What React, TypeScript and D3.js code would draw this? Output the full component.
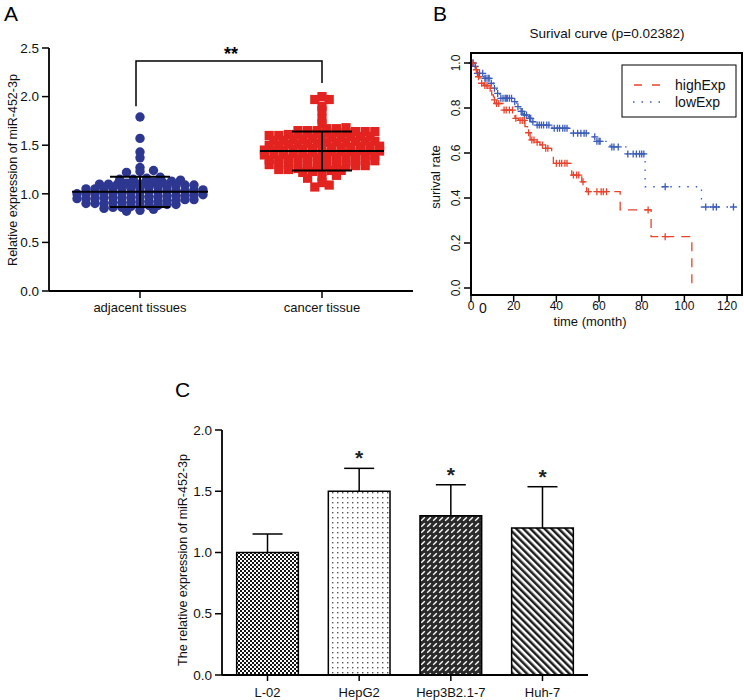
import React from 'react';
import * as d3 from 'd3';

const FONT = '"Liberation Sans", Arial, Helvetica, sans-serif';

// ---------- Panel A data ----------
const groupsA = ['adjacent tissues', 'cancer tissue'];
const adjacentValues = [
  1.79, 1.57, 1.43, 1.37, 1.27, 1.23, 1.22, 1.24,
  1.15, 1.14, 1.16, 1.13, 1.17, 1.15,
  1.11, 1.10, 1.12, 1.09, 1.11, 1.10, 1.12, 1.09, 1.11, 1.10,
  1.06, 1.05, 1.07, 1.04, 1.06, 1.08, 1.05, 1.07, 1.06, 1.04, 1.05, 1.07, 1.06,
  1.01, 1.02, 1.00, 1.03, 0.99, 1.01, 1.02, 1.00, 1.03, 1.01, 0.99, 1.02, 1.00, 1.01, 1.03,
  0.96, 0.97, 0.95, 0.98, 0.94, 0.96, 0.97, 0.95, 0.98, 0.96, 0.94, 0.97, 0.95, 0.96, 0.98,
  0.91, 0.92, 0.90, 0.93, 0.89, 0.91, 0.92, 0.90, 0.93, 0.91, 0.89, 0.92, 0.90,
  0.87, 0.86, 0.88, 0.85, 0.87, 0.86, 0.88,
  0.83, 0.82, 0.84,
];
const cancerValues = [
  2.00, 1.97, 1.97, 1.90, 1.855, 1.77, 1.72,
  1.67, 1.68, 1.67,
  1.64, 1.63, 1.65, 1.62, 1.64, 1.63, 1.65, 1.62, 1.64, 1.63, 1.65,
  1.59, 1.58, 1.60, 1.57, 1.61, 1.59, 1.58, 1.60, 1.57, 1.59, 1.61,
  1.54, 1.53, 1.55, 1.52, 1.56, 1.54, 1.53, 1.55, 1.52, 1.54, 1.56, 1.53,
  1.49, 1.48, 1.50, 1.47, 1.51, 1.49, 1.48, 1.50, 1.47, 1.49, 1.51, 1.48,
  1.44, 1.43, 1.45, 1.42, 1.46, 1.44, 1.43, 1.45, 1.42, 1.44, 1.46, 1.43, 1.45,
  1.39, 1.38, 1.40, 1.37, 1.41, 1.39, 1.38, 1.40, 1.37, 1.39, 1.41, 1.38, 1.40,
  1.34, 1.33, 1.35, 1.32, 1.36, 1.34, 1.33, 1.35, 1.32, 1.34, 1.36, 1.33,
  1.29, 1.28, 1.30, 1.27, 1.31, 1.29, 1.28, 1.30, 1.27, 1.29, 1.31,
  1.24, 1.23, 1.25, 1.22, 1.26, 1.24, 1.23, 1.25,
  1.16, 1.19, 1.18,
  1.115, 1.09, 1.07,
];
// mean ± SD as drawn in the figure
const meanA = [1.02, 1.44];
const sdA = [0.155, 0.2];
const ticksA = [0, 0.5, 1.0, 1.5, 2.0, 2.5];

// ---------- Panel B data ----------
const lowTimes = [0, 1.5, 2.7, 5.8, 9, 10.5, 12, 13.6, 19.8, 21.4, 23, 24.5, 26.9, 28.4, 30, 38, 47, 55, 58.9, 65.2, 73, 81.6, 108];
const lowSurv = [1, 0.985, 0.954, 0.932, 0.91, 0.888, 0.865, 0.843, 0.828, 0.806, 0.785, 0.769, 0.754, 0.739, 0.724, 0.71, 0.688, 0.672, 0.652, 0.627, 0.596, 0.45, 0.36];
const lowEnd = 123;
const lowCensor = [0.5, 1, 2, 3, 4, 5.5, 6.5, 7, 8, 8.5, 9.5, 11, 12.5, 14, 15, 16, 16.5, 17, 18, 19, 20.5, 22, 23.5, 24, 25, 26, 27.5, 28, 29, 31, 32, 33, 34, 35.5, 36.5, 39, 40.5, 41.5, 43, 44, 45, 48, 50, 51.5, 53, 54, 58, 59, 60, 60.5, 66, 67, 69, 73.5, 76, 77.5, 79, 80, 81, 91, 110, 113.5, 115, 123];
const highTimes = [0, 2, 3.4, 4.2, 6, 8.1, 9.7, 10.5, 11.5, 15.2, 19.8, 20.6, 22.2, 25.3, 26.5, 27.7, 30, 32.3, 34.7, 37.8, 38.6, 47.2, 51.9, 53.5, 54.2, 69.9, 84.4, 103.5];
const highSurv = [1, 0.97, 0.939, 0.91, 0.9, 0.888, 0.858, 0.836, 0.82, 0.791, 0.769, 0.754, 0.745, 0.717, 0.69, 0.658, 0.648, 0.636, 0.621, 0.584, 0.554, 0.502, 0.472, 0.45, 0.428, 0.347, 0.228, 0];
const highCensor = [1, 2.5, 3.5, 5, 6.5, 7.5, 9, 11, 12, 13, 15.5, 16.5, 18, 19.5, 21, 23, 24, 25, 27, 28.5, 29.5, 31, 33.5, 35, 36, 40, 41.5, 42.5, 44, 45, 48, 49.5, 50.5, 52.5, 55, 59, 61, 62, 63.5, 83, 91];
const ticksBX = [0, 20, 40, 60, 80, 100, 120];
const ticksBY = [0, 0.2, 0.4, 0.6, 0.8, 1.0];

// ---------- Panel C data ----------
const cellLines = ['L-02', 'HepG2', 'Hep3B2.1-7', 'Huh-7'];
const cellMeans = [1.0, 1.5, 1.3, 1.2];
const cellSD = [0.151, 0.187, 0.253, 0.337];
const cellStars = ['', '*', '*', '*'];
const cellPatterns = ['pCheck', 'pDots', 'pDash', 'pStripe'];
const ticksC = [0, 0.5, 1.0, 1.5, 2.0];

const RED_A = '#E2231F';
const BLUE_A = '#2E3790';
const RED_B = '#E8432D';
const BLUE_B = '#3B5CB8';

function swarm(values: number[], binSize: number, spacing: number) {
  const items = values.map((v, i) => ({ v, i }));
  const bins = d3.group(items, (d) => Math.floor(d.v / binSize + 1e-9));
  const out: { v: number; dx: number }[] = [];
  for (const [, arr] of bins) {
    const sorted = arr.slice().sort((a, b) => a.v - b.v);
    const n = sorted.length;
    const sp = n <= 4 ? spacing * 1.5 : spacing;
    sorted.forEach((d, k) => out.push({ v: d.v, dx: (k - (n - 1) / 2) * sp }));
  }
  return out;
}

function survAt(times: number[], surv: number[], t: number) {
  const idx = d3.bisectRight(times, t) - 1;
  return surv[Math.max(0, idx)];
}

function PanelA() {
  const y = d3.scaleLinear([0, 2.5], [291, 48]);
  const x = d3.scalePoint(groupsA, [49, 413]).padding(0.5);
  const fmt = d3.format('.1f');
  const blue = swarm(adjacentValues, 0.05, 9);
  const red = swarm(cancerValues, 0.05, 9.6);
  const xb = x(groupsA[0])!;
  const xr = x(groupsA[1])!;
  const meanHalf = [68, 62];
  return (
    <g fontFamily={FONT}>
      <text x={4} y={21} fontSize={21}>A</text>
      <line x1={49} x2={49} y1={y(2.5)} y2={y(0)} stroke="#000" strokeWidth={1.8} />
      <line x1={49} x2={413} y1={y(0)} y2={y(0)} stroke="#000" strokeWidth={1.8} />
      {ticksA.map((t) => (
        <g key={t}>
          <line x1={42} x2={49} y1={y(t)} y2={y(t)} stroke="#000" strokeWidth={1.5} />
          <text x={39} y={y(t)} dy="0.35em" textAnchor="end" fontSize={13.5} fill="#111">{fmt(t)}</text>
        </g>
      ))}
      {groupsA.map((g) => (
        <g key={g}>
          <line x1={x(g)} x2={x(g)} y1={y(0)} y2={y(0) + 7} stroke="#000" strokeWidth={1.5} />
          <text x={x(g)} y={312} textAnchor="middle" fontSize={13} fill="#111">{g}</text>
        </g>
      ))}
      <text transform={`translate(13,170) rotate(-90)`} textAnchor="middle" dominantBaseline="central" fontSize={12.5} fill="#111">
        Relative expression of miR-452-3p
      </text>
      {blue.map((p, i) => (
        <circle key={'b' + i} cx={xb + p.dx} cy={y(p.v)} r={4.7} fill={BLUE_A} />
      ))}
      {red.map((p, i) => (
        <rect key={'r' + i} x={xr + p.dx - 4.6} y={y(p.v) - 4.6} width={9.2} height={9.2} fill={RED_A} />
      ))}
      {[xb, xr].map((cx, i) => {
        const m = meanA[i];
        const s = sdA[i];
        return (
          <g key={i} stroke="#000" strokeWidth={2}>
            <line x1={cx - meanHalf[i]} x2={cx + meanHalf[i]} y1={y(m)} y2={y(m)} />
            <line x1={cx} x2={cx} y1={y(m + s)} y2={y(m - s)} />
            <line x1={cx - 30} x2={cx + 30} y1={y(m + s)} y2={y(m + s)} />
            <line x1={cx - 30} x2={cx + 30} y1={y(m - s)} y2={y(m - s)} />
          </g>
        );
      })}
      <path d={`M${xb - 4},${y(1.9)} V61 H${xr} V${y(2.14)}`} fill="none" stroke="#000" strokeWidth={1.5} />
      <text x={(xb + xr) / 2} y={60} textAnchor="middle" fontSize={18} fontWeight="bold">**</text>
    </g>
  );
}

function PanelB() {
  const x = d3.scaleLinear([0, 127], [471, 742]);
  const y = d3.scaleLinear([0, 1], [288, 63]);
  const line = d3
    .line<[number, number]>()
    .x((d) => x(d[0]))
    .y((d) => y(d[1]))
    .curve(d3.curveStepAfter);
  const lowPts: [number, number][] = lowTimes.map((t, i) => [t, lowSurv[i]]);
  lowPts.push([lowEnd, lowSurv[lowSurv.length - 1]]);
  const highPts: [number, number][] = highTimes.map((t, i) => [t, highSurv[i]]);
  const plus = (cx: number, cy: number, color: string, key: string) => (
    <path key={key} d={`M${cx - 3.5},${cy} H${cx + 3.5} M${cx},${cy - 3.5} V${cy + 3.5}`} stroke={color} strokeWidth={1.3} fill="none" />
  );
  return (
    <g fontFamily={FONT}>
      <text x={433} y={21} fontSize={21}>B</text>
      <text x={607} y={38} textAnchor="middle" fontSize={13.5} fill="#111">Surival curve (p=0.02382)</text>
      <path d={line(lowPts)!} fill="none" stroke={BLUE_B} strokeWidth={1.3} strokeDasharray="1.5,7" />
      <path d={line(highPts)!} fill="none" stroke={RED_B} strokeWidth={1.3} strokeDasharray="9,7" />
      {lowCensor.map((t, i) => plus(x(t), y(survAt(lowTimes, lowSurv, t)), BLUE_B, 'lc' + i))}
      {highCensor.map((t, i) => plus(x(t), y(survAt(highTimes, highSurv, t)), RED_B, 'hc' + i))}
      <rect x={471} y={53} width={271} height={242} fill="none" stroke="#000" strokeWidth={2} />
      {ticksBY.map((t) => (
        <g key={t}>
          <line x1={464} x2={471} y1={y(t)} y2={y(t)} stroke="#000" strokeWidth={1.5} />
          <text transform={`translate(456,${y(t)}) rotate(-90)`} textAnchor="middle" dominantBaseline="central" fontSize={12} fill="#111">
            {t.toFixed(1)}
          </text>
        </g>
      ))}
      {ticksBX.map((t) => (
        <g key={t}>
          <line x1={x(t)} x2={x(t)} y1={295} y2={302} stroke="#000" strokeWidth={1.5} />
          <text x={x(t)} y={310} textAnchor="middle" fontSize={12} fill="#111">{t}</text>
        </g>
      ))}
      <text x={483} y={313} textAnchor="middle" fontSize={14} fill="#111">0</text>
      <text x={590} y={326} textAnchor="middle" fontSize={13} fill="#111">time (month)</text>
      <text transform={`translate(435,177) rotate(-90)`} textAnchor="middle" dominantBaseline="central" fontSize={13} fill="#111">
        surival rate
      </text>
      <rect x={622} y={65} width={114} height={52} fill="#fff" stroke="#000" strokeWidth={1} />
      <line x1={633} x2={663} y1={85} y2={85} stroke={RED_B} strokeWidth={1.3} strokeDasharray="8,10" strokeDashoffset={-1} />
      <line x1={633} x2={663} y1={102} y2={102} stroke={BLUE_B} strokeWidth={1.3} strokeDasharray="1.5,7" />
      <text x={675} y={85} dy="0.35em" fontSize={14} fill="#111">highExp</text>
      <text x={675} y={102} dy="0.35em" fontSize={14} fill="#111">lowExp</text>
    </g>
  );
}

function PanelC() {
  const y = d3.scaleLinear([0, 2], [675, 430]);
  const x = d3.scaleBand(cellLines, [222, 588]).paddingInner(0.327).paddingOuter(0.16);
  const fmt = d3.format('.1f');
  const bw = x.bandwidth();
  return (
    <g fontFamily={FONT}>
      <defs>
        <pattern id="pCheck" width={4} height={4} patternUnits="userSpaceOnUse">
          <rect width={4} height={4} fill="#151515" />
          <rect x={0} y={0} width={2} height={2} fill="#fff" />
          <rect x={2} y={2} width={2} height={2} fill="#fff" />
        </pattern>
        <pattern id="pDots" width={5} height={5} patternUnits="userSpaceOnUse">
          <rect width={5} height={5} fill="#fff" />
          <rect x={2} y={2} width={1.4} height={1.4} fill="#555" />
        </pattern>
        <pattern id="pDash" width={6} height={6} patternUnits="userSpaceOnUse">
          <rect width={6} height={6} fill="#2b2b2b" />
          <line x1={1.2} y1={4.8} x2={4.8} y2={1.2} stroke="#fff" strokeWidth={1.4} />
        </pattern>
        <pattern id="pStripe" width={5} height={5} patternUnits="userSpaceOnUse" patternTransform="rotate(-45)">
          <rect width={5} height={5} fill="#fff" />
          <rect x={0} y={0} width={2.5} height={5} fill="#1e1e1e" />
        </pattern>
      </defs>
      <text x={175} y={397} fontSize={21}>C</text>
      {cellLines.map((c, i) => {
        const x0 = x(c)!;
        const cx = x0 + bw / 2;
        const top = y(cellMeans[i] + cellSD[i]);
        return (
          <g key={c}>
            <line x1={cx} x2={cx} y1={y(cellMeans[i])} y2={top} stroke="#000" strokeWidth={1.5} />
            <line x1={cx - 15} x2={cx + 15} y1={top} y2={top} stroke="#000" strokeWidth={1.5} />
            <rect x={x0} y={y(cellMeans[i])} width={bw} height={y(0) - y(cellMeans[i])} fill={`url(#${cellPatterns[i]})`} stroke="#000" strokeWidth={1.5} />
            {cellStars[i] && (
              <text x={cx} y={top - 3} textAnchor="middle" fontSize={21} fontWeight="bold" fill="#222">{cellStars[i]}</text>
            )}
            <line x1={cx} x2={cx} y1={y(0)} y2={y(0) + 6} stroke="#000" strokeWidth={1.5} />
            <text x={cx} y={697} textAnchor="middle" fontSize={13} fill="#111">{c}</text>
          </g>
        );
      })}
      <line x1={222} x2={222} y1={y(2)} y2={y(0)} stroke="#000" strokeWidth={1.8} />
      <line x1={222} x2={588} y1={y(0)} y2={y(0)} stroke="#000" strokeWidth={1.8} />
      {ticksC.map((t) => (
        <g key={t}>
          <line x1={215} x2={222} y1={y(t)} y2={y(t)} stroke="#000" strokeWidth={1.5} />
          <text x={212} y={y(t)} dy="0.35em" textAnchor="end" fontSize={13.5} fill="#111">{fmt(t)}</text>
        </g>
      ))}
      <text transform={`translate(183,560) rotate(-90)`} textAnchor="middle" dominantBaseline="central" fontSize={12.5} fill="#111">
        The relative expression of miR-452-3p
      </text>
    </g>
  );
}

export default function App() {
  return (
    <svg width={744} height={700} style={{ position: 'absolute', left: 0, top: 0, background: '#fff' }}>
      <rect width={744} height={700} fill="#fff" />
      <PanelA />
      <PanelB />
      <PanelC />
    </svg>
  );
}
